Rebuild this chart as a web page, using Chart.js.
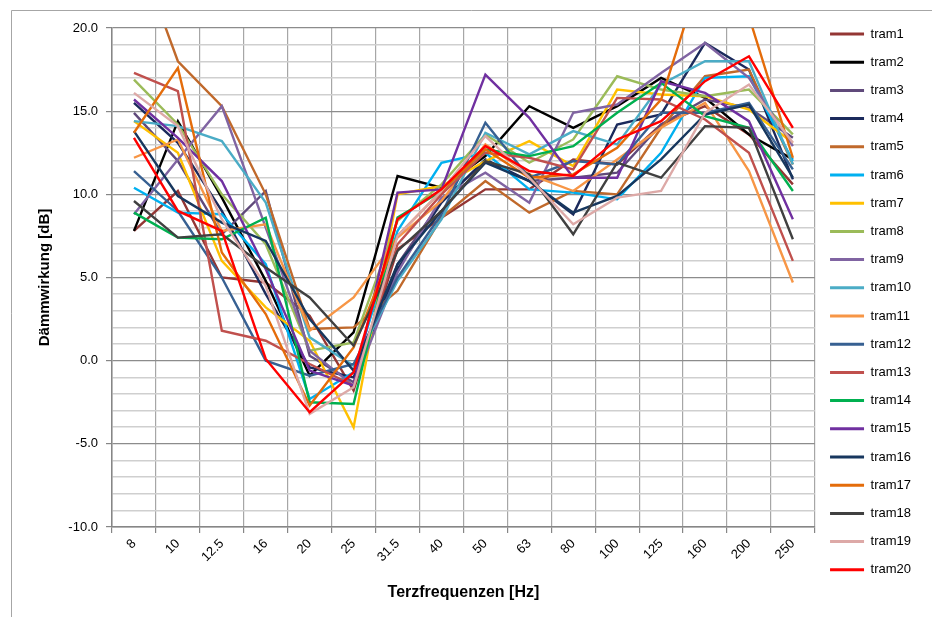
<!DOCTYPE html>
<html>
<head>
<meta charset="utf-8">
<script src="https://cdn.jsdelivr.net/npm/chart.js@4/dist/chart.umd.min.js"></script>
<style>
html, body { margin: 0; padding: 0; background: #fff; }
#wrap { position: relative; width: 932px; height: 617px; }
</style>
</head>
<body>
<div id="wrap"><canvas id="line-chart" width="932" height="617"></canvas></div>
<script>
// Terzfrequenzen [Hz]
var frequencies = ['8', '10', '12.5', '16', '20', '25', '31.5', '40', '50', '63', '80', '100', '125', '160', '200', '250'];

// Dämmwirkung [dB] per tram
var tram1  = [7.8, 10.2, 5.0, 4.7, 2.7, -1.8, 6.7, 8.6, 10.3, 10.3, 12.1, 11.8, 14.2, 15.3, 13.6, 10.6];
var tram2  = [7.8, 14.4, 9.8, 4.8, -0.9, 1.7, 11.1, 10.4, 12.3, 15.3, 14.0, 15.3, 17.0, 15.8, 13.6, 12.1];
var tram3  = [14.9, 12.0, 7.6, 10.2, 0.3, -1.3, 5.8, 9.6, 12.0, 10.8, 11.0, 11.3, 14.2, 15.7, 15.2, 13.4];
var tram4  = [15.5, 13.1, 9.0, 4.0, -0.4, -1.0, 5.5, 9.5, 12.1, 10.8, 8.8, 14.2, 14.8, 19.1, 17.5, 10.9];
var tram5  = [25.2, 18.0, 15.3, 10.0, 1.9, 2.0, 4.2, 8.6, 10.8, 8.9, 10.2, 10.0, 14.0, 17.1, 17.5, 11.8];
var tram6  = [10.4, 8.9, 8.8, 5.8, -2.3, -0.7, 7.8, 11.9, 12.5, 10.3, 10.1, 9.7, 12.5, 17.0, 17.1, 12.0];
var tram7  = [14.4, 12.5, 6.0, 3.2, 1.2, -4.0, 10.0, 10.5, 12.0, 13.2, 11.7, 16.3, 16.0, 15.9, 15.1, 13.1];
var tram8  = [16.9, 14.2, 10.0, 7.0, 0.6, 1.1, 8.4, 10.6, 13.6, 11.9, 13.3, 17.1, 16.3, 15.9, 16.3, 13.6];
var tram9  = [8.8, 12.1, 15.3, 8.0, 0.6, -1.5, 5.3, 9.8, 11.3, 9.5, 14.9, 15.4, 17.3, 19.1, 17.0, 12.9];
var tram10 = [14.4, 14.1, 13.2, 9.5, 1.4, -0.3, 4.8, 8.5, 13.7, 12.4, 13.8, 13.0, 16.6, 18.0, 18.0, 11.8];
var tram11 = [12.2, 13.3, 7.8, 8.2, 1.8, 3.8, 7.4, 9.6, 13.0, 11.2, 10.2, 12.1, 14.0, 15.5, 11.4, 4.7];
var tram12 = [11.4, 9.0, 5.0, 0.0, -0.9, -0.2, 5.0, 8.8, 14.3, 11.0, 12.0, 11.8, 14.9, 14.9, 15.5, 11.5];
var tram13 = [17.3, 16.2, 1.8, 1.2, -0.2, -1.5, 7.0, 10.0, 12.5, 12.2, 11.5, 15.8, 15.7, 14.5, 12.5, 6.0];
var tram14 = [8.9, 7.4, 7.3, 8.6, -2.5, -2.6, 8.6, 10.2, 12.7, 12.3, 12.9, 14.9, 16.7, 14.7, 14.0, 10.2];
var tram15 = [15.7, 13.4, 10.8, 5.5, -0.6, -1.5, 10.1, 10.3, 17.2, 14.6, 11.0, 11.0, 16.8, 16.1, 14.4, 8.5];
var tram16 = [13.8, 9.9, 8.3, 7.2, 2.5, -0.6, 5.8, 9.0, 11.9, 10.8, 8.9, 9.9, 12.1, 14.8, 15.4, 11.0];
var tram17 = [13.7, 17.6, 6.5, 2.8, -2.7, 0.8, 7.5, 10.2, 12.7, 11.0, 11.2, 12.8, 15.7, 24.0, 20.7, 12.2];
var tram18 = [9.6, 7.4, 7.6, 5.6, 3.8, 0.9, 6.6, 9.0, 12.0, 11.2, 7.6, 11.9, 11.0, 14.1, 14.0, 7.3];
var tram19 = [16.1, 14.1, 8.5, 4.5, -3.2, -1.6, 7.5, 10.2, 13.5, 11.0, 8.2, 9.8, 10.2, 14.9, 16.6, 13.1];
var tram20 = [13.4, 9.0, 7.8, 0.1, -3.1, -0.7, 8.5, 10.3, 12.9, 11.4, 11.1, 13.3, 14.4, 16.8, 18.3, 14.0];

var seriesNames = ['tram1', 'tram2', 'tram3', 'tram4', 'tram5', 'tram6', 'tram7', 'tram8', 'tram9', 'tram10',
                   'tram11', 'tram12', 'tram13', 'tram14', 'tram15', 'tram16', 'tram17', 'tram18', 'tram19', 'tram20'];
var seriesData = [tram1, tram2, tram3, tram4, tram5, tram6, tram7, tram8, tram9, tram10,
                  tram11, tram12, tram13, tram14, tram15, tram16, tram17, tram18, tram19, tram20];
var seriesColors = ['#943634', '#000000', '#604A7B', '#1B2A5C', '#C0692B', '#00B0F0', '#FFC000', '#9BBB59', '#8064A2', '#4BACC6',
                    '#F79646', '#376092', '#C0504D', '#00B050', '#7030A0', '#17375E', '#E46C0A', '#404040', '#DDA9A7', '#FF0000'];

var fontFamily = '"Liberation Sans", Arial, sans-serif';

var datasets = [];
for (var i = 0; i < seriesData.length; i++) {
  datasets.push({
    label: seriesNames[i],
    data: seriesData[i],
    borderColor: seriesColors[i],
    backgroundColor: seriesColors[i],
    borderWidth: 2.4,
    pointRadius: 0,
    pointHoverRadius: 0,
    fill: false,
    tension: 0,
    order: seriesData.length - 1 - i   // last series drawn on top, like Excel
  });
}

// grey frame round the whole chart
var framePlugin = {
  id: 'frame',
  beforeDraw: function(chart) {
    var ctx = chart.ctx;
    ctx.save();
    ctx.strokeStyle = '#a6a6a6';
    ctx.lineWidth = 1;
    ctx.beginPath();
    ctx.moveTo(11.5, 617);
    ctx.lineTo(11.5, 10.5);
    ctx.lineTo(932, 10.5);
    ctx.stroke();
    ctx.restore();
  }
};

new Chart(document.getElementById('line-chart'), {
  type: 'line',
  data: { labels: frequencies, datasets: datasets },
  plugins: [framePlugin],
  options: {
    responsive: false,
    animation: false,
    devicePixelRatio: 1,
    layout: { padding: { top: 0, right: 11, bottom: 13.2, left: 0 } },
    plugins: {
      tooltip: { enabled: false },
      title: { display: true, text: '', font: { size: 10 }, padding: { top: 16, bottom: 0 } },
      legend: {
        position: 'right',
        align: 'center',
        labels: {
          boxWidth: 34,
          boxHeight: 3,
          padding: 15.2,
          color: '#000',
          font: { family: fontFamily, size: 13 },
          sort: function(a, b) { return a.datasetIndex - b.datasetIndex; },
          generateLabels: function(chart) {
            var items = Chart.defaults.plugins.legend.labels.generateLabels(chart);
            items.forEach(function(it) { it.lineWidth = 0; it.fillStyle = it.strokeStyle; });
            return items;
          }
        }
      }
    },
    scales: {
      x: {
        offset: true,
        grid: { offset: true, color: '#a6a6a6', lineWidth: 1.2, tickLength: 6, tickColor: '#868686' },
        border: { color: '#868686', width: 1.5 },
        ticks: { autoSkip: false, maxRotation: 45, minRotation: 45, padding: 3, color: '#000',
                 font: { family: fontFamily, size: 13 } },
        title: { display: true, text: 'Terzfrequenzen [Hz]', color: '#000',
                 font: { family: fontFamily, size: 16, weight: 'bold' }, padding: { top: 0, bottom: 2 } },
        afterFit: function(scale) { scale.height = 76.8; }
      },
      y: {
        min: -10,
        max: 20,
        ticks: {
          stepSize: 1,
          autoSkip: false,
          padding: 8,
          color: '#000',
          font: { family: fontFamily, size: 13 },
          callback: function(v) { return v % 5 === 0 ? v.toFixed(1) : ''; }
        },
        grid: {
          color: function(c) { return c.tick && c.tick.value % 5 === 0 ? '#8c8c8c' : '#cfcfcf'; },
          lineWidth: function(c) { return c.tick && c.tick.value % 5 === 0 ? 1.2 : 1.5; },
          tickLength: 6,
          tickColor: function(c) { return c.tick && c.tick.value % 5 === 0 ? '#868686' : 'rgba(0,0,0,0)'; }
        },
        border: { color: '#868686', width: 1.5 },
        title: { display: true, text: 'Dämmwirkung [dB]', color: '#000',
                 font: { family: fontFamily, size: 15, weight: 'bold' }, padding: { top: 36, bottom: 0 } },
        afterFit: function(scale) { scale.width = 112; }
      }
    }
  }
});
</script>
</body>
</html>
